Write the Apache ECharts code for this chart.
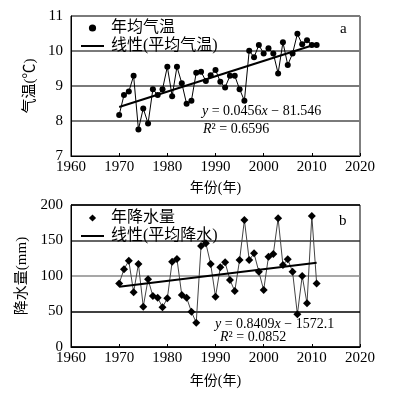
<!DOCTYPE html>
<html>
<head>
<meta charset="utf-8">
<script src="https://cdn.jsdelivr.net/npm/echarts@6/dist/echarts.min.js"></script>
<style>
html, body { margin: 0; padding: 0; background: #fff; }
#chart { width: 399px; height: 403px; }
</style>
</head>
<body>
<div id="chart"></div>
<script>
// 年份
var years = [1970, 1971, 1972, 1973, 1974, 1975, 1976, 1977, 1978, 1979,
    1980, 1981, 1982, 1983, 1984, 1985, 1986, 1987, 1988, 1989,
    1990, 1991, 1992, 1993, 1994, 1995, 1996, 1997, 1998, 1999,
    2000, 2001, 2002, 2003, 2004, 2005, 2006, 2007, 2008, 2009,
    2010, 2011];
// 年均气温
var tempValues = [8.17, 8.74, 8.84, 9.29, 7.76, 8.36, 7.93, 8.91, 8.74, 8.91,
    9.55, 8.71, 9.55, 9.08, 8.49, 8.58, 9.38, 9.41, 9.14, 9.31,
    9.46, 9.12, 8.96, 9.29, 9.29, 8.91, 8.58, 10.01, 9.82, 10.17,
    9.93, 10.08, 9.93, 9.36, 10.25, 9.60, 9.93, 10.49, 10.19, 10.31,
    10.17, 10.17];
// 年降水量
var rainValues = [89.6, 109.4, 121.5, 77.0, 116.9, 56.8, 95.3, 71.8, 69.4, 55.9,
    68.5, 120.1, 123.9, 73.2, 69.4, 49.7, 34.2, 142.2, 146.0, 116.9,
    70.8, 112.2, 119.2, 94.3, 78.8, 122.5, 178.8, 122.5, 131.9, 106.0,
    80.3, 127.1, 130.9, 181.2, 115.5, 123.5, 106.0, 46.0, 100.0, 61.5,
    184.4, 89.6];
// 线性趋势端点
var trendYears = [1970, 2011];
var tempTrend = [8.40, 10.20];
var rainTrend = [84.9, 118.7];
// 坐标刻度
var xTicks = [1960, 2020, 10];
var tempTicks = [7, 11, 1];
var rainTicks = [0, 200, 50];

function pairs(xs, ys) {
    return xs.map(function (x, i) { return [x, ys[i]]; });
}

var serif = '"Liberation Serif", "Times New Roman", serif';
var cjk = '"Liberation Serif", "Noto Sans CJK SC", serif';

function makeX(idx) {
    return {
        type: 'value', gridIndex: idx,
        min: xTicks[0], max: xTicks[1], interval: xTicks[2],
        axisLine: { lineStyle: { color: '#000', width: 1 } },
        axisTick: { inside: true, length: 3, lineStyle: { color: '#000' } },
        axisLabel: { color: '#000', fontFamily: serif, fontSize: 15, margin: 4,
            formatter: function (v) { return String(v); } },
        splitLine: { show: false },
        name: '年份(年)', nameLocation: 'middle', nameGap: idx === 0 ? 25 : 27,
        nameTextStyle: { color: '#000', fontFamily: cjk, fontSize: 14 }
    };
}

// 图例: 第一项只画符号, 第二项只画线
function makeLegend(top, first, second) {
    return {
        left: 75, top: top, orient: 'vertical', itemGap: 0,
        itemWidth: 23, itemHeight: 9,
        textStyle: { color: '#000', fontFamily: cjk, fontSize: 16, lineHeight: 18, padding: [0, 0, 0, 2] },
        data: [
            { name: first, itemStyle: { color: '#000' }, lineStyle: { color: 'transparent', width: 0 } },
            { name: second, itemStyle: { color: 'transparent', borderWidth: 0 } }
        ]
    };
}

function eqText(left, top, text) {
    return { type: 'text', left: left, top: top, style: {
        text: text, font: '14px ' + serif, fill: '#000',
        rich: { i: { fontStyle: 'italic', fontFamily: serif, fontSize: 14 } }
    } };
}

var chart = echarts.init(document.getElementById('chart'));
var option = {
    animation: false,
    backgroundColor: '#fff',
    grid: [
        { left: 71, right: 39, top: 16, height: 140, show: true, borderColor: '#000', borderWidth: 1 },
        { left: 71, right: 39, top: 205, height: 142, show: true, borderColor: '#000', borderWidth: 1 }
    ],
    xAxis: [makeX(0), makeX(1)],
    yAxis: [{
        type: 'value', gridIndex: 0,
        min: tempTicks[0], max: tempTicks[1], interval: tempTicks[2],
        axisLine: { show: true, lineStyle: { color: '#000' } },
        axisTick: { show: false },
        axisLabel: { color: '#000', fontFamily: serif, fontSize: 15, margin: 8 },
        splitLine: { lineStyle: { color: '#7a7a7a', width: 2 } },
        name: '气温(℃)', nameLocation: 'middle', nameGap: 29,
        nameTextStyle: { color: '#000', fontFamily: cjk, fontSize: 15 }
    }, {
        type: 'value', gridIndex: 1,
        min: rainTicks[0], max: rainTicks[1], interval: rainTicks[2],
        axisLine: { show: true, lineStyle: { color: '#000' } },
        axisTick: { show: false },
        axisLabel: { color: '#000', fontFamily: serif, fontSize: 15, margin: 8 },
        splitLine: { lineStyle: { color: ['#000', '#000', '#8a8a8a', '#333', '#000'], width: 1.5 } },
        name: '降水量(mm)', nameLocation: 'middle', nameGap: 36,
        nameTextStyle: { color: '#000', fontFamily: cjk, fontSize: 15 }
    }],
    legend: [
        makeLegend(14, '年均气温', '线性(平均气温)'),
        makeLegend(204, '年降水量', '线性(平均降水)')
    ],
    graphic: [
        { type: 'text', left: 340, top: 22, style: { text: 'a', font: '15px ' + serif, fill: '#000' } },
        { type: 'text', left: 339, top: 214, style: { text: 'b', font: '15px ' + serif, fill: '#000' } },
        eqText(202, 104, '{i|y} = 0.0456{i|x} − 81.546'),
        eqText(203, 122, '{i|R}² = 0.6596'),
        eqText(215, 317, '{i|y} = 0.8409{i|x} − 1572.1'),
        eqText(220, 330, '{i|R}² = 0.0852')
    ],
    series: [{
        name: '年均气温', type: 'line', xAxisIndex: 0, yAxisIndex: 0,
        data: pairs(years, tempValues),
        symbol: 'circle', symbolSize: 6,
        itemStyle: { color: '#000' },
        lineStyle: { color: '#000', width: 1 },
        z: 3
    }, {
        name: '线性(平均气温)', type: 'line', xAxisIndex: 0, yAxisIndex: 0,
        data: pairs(trendYears, tempTrend),
        symbol: 'none',
        itemStyle: { color: '#000' },
        lineStyle: { color: '#000', width: 2 },
        z: 4
    }, {
        name: '年降水量', type: 'line', xAxisIndex: 1, yAxisIndex: 1,
        data: pairs(years, rainValues),
        symbol: 'diamond', symbolSize: 8,
        itemStyle: { color: '#000' },
        lineStyle: { color: '#444', width: 1 },
        z: 3
    }, {
        name: '线性(平均降水)', type: 'line', xAxisIndex: 1, yAxisIndex: 1,
        data: pairs(trendYears, rainTrend),
        symbol: 'none',
        itemStyle: { color: '#000' },
        lineStyle: { color: '#000', width: 2 },
        z: 4
    }]
};
chart.setOption(option);

window.addEventListener('resize', function () {
    chart.resize();
});
</script>
</body>
</html>
